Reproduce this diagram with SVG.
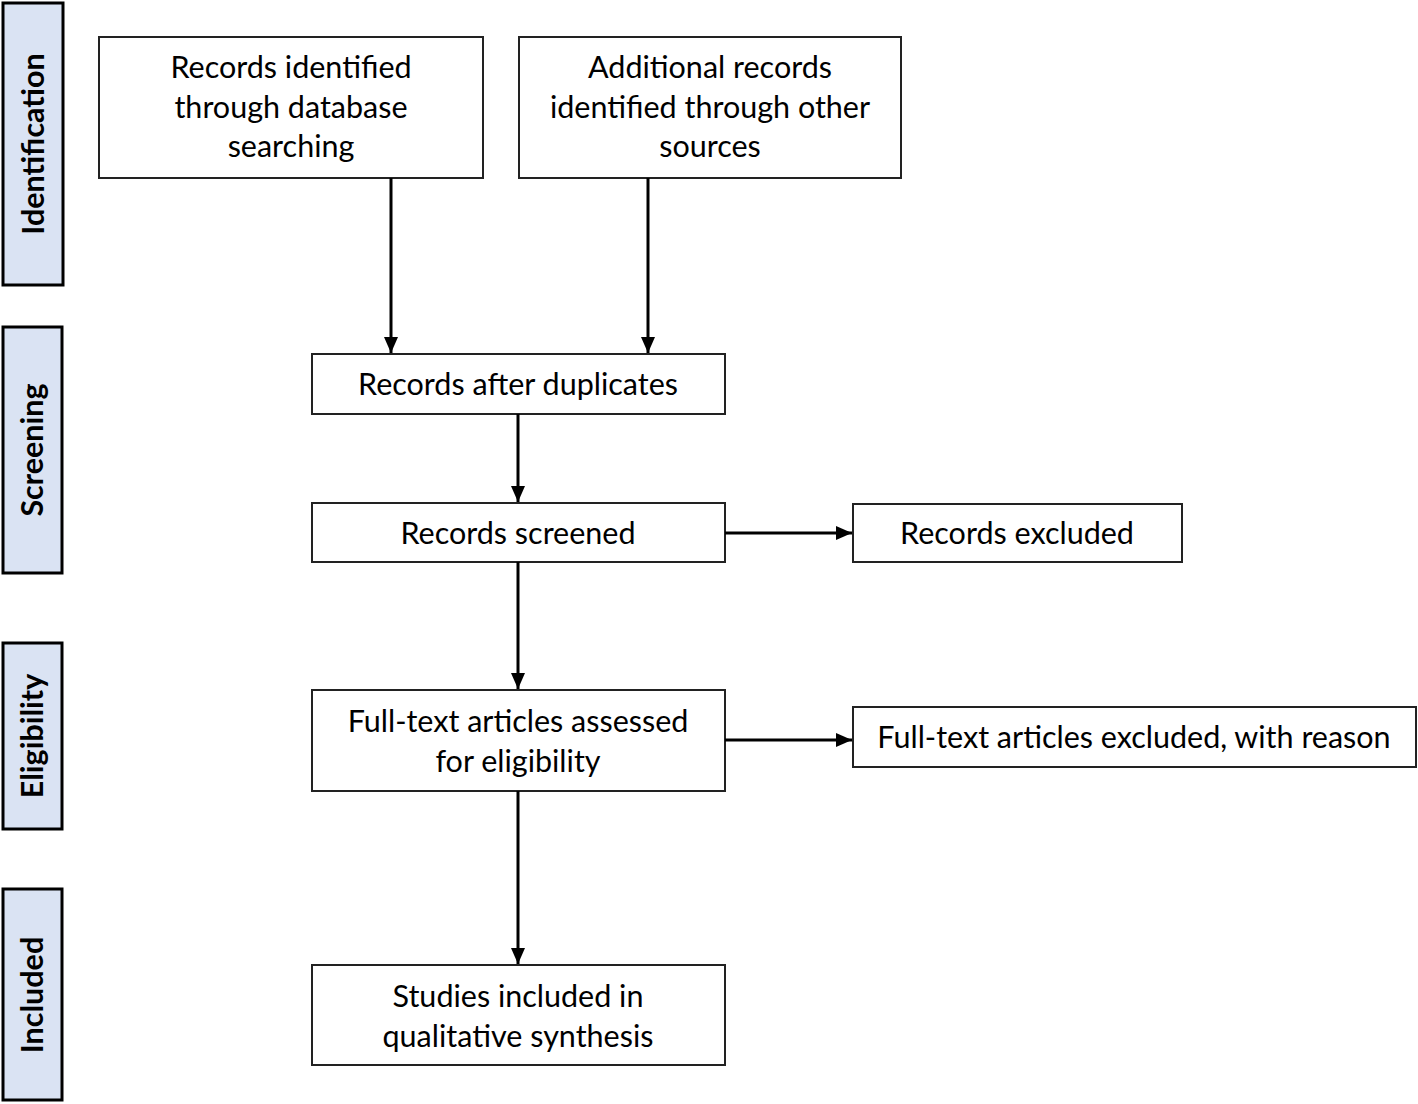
<svg xmlns="http://www.w3.org/2000/svg" width="1418" height="1104" viewBox="0 0 1418 1104">
<style>
.bar{fill:#dae3f3;stroke:#000;stroke-width:3}
.box{fill:#fff;stroke:#222;stroke-width:2}
.t{font-family:Lato,"Open Sans",sans-serif;font-size:30.5px;fill:#000;text-anchor:middle}
.s{font-family:Lato,"Open Sans",sans-serif;font-size:30.5px;font-weight:bold;fill:#000;text-anchor:middle}
.c{stroke:#000;stroke-width:3;fill:none}
</style>
<defs>
<marker id="a" viewBox="0 0 16 14" refX="16" refY="7" markerWidth="16" markerHeight="14" orient="auto" markerUnits="userSpaceOnUse">
<path d="M0,0 L16,7 L0,14 z" fill="#000"/>
</marker>
</defs>
<rect width="1418" height="1104" fill="#fff"/>
<g id="stage-identification"><rect class="bar" x="3" y="3" width="60" height="282"/><text class="s" transform="translate(44,144) rotate(-90)">Identification</text></g>
<g id="stage-screening"><rect class="bar" x="3" y="327" width="59" height="246"/><text class="s" transform="translate(43,450) rotate(-90)">Screening</text></g>
<g id="stage-eligibility"><rect class="bar" x="3" y="643" width="59" height="186"/><text class="s" transform="translate(43,736) rotate(-90)">Eligibility</text></g>
<g id="stage-included"><rect class="bar" x="3" y="889" width="59" height="211"/><text class="s" transform="translate(43,995) rotate(-90)">Included</text></g>
<g id="n-db"><rect class="box" x="99" y="37" width="384" height="141"/><text class="t" x="291" y="78">Records identified</text><text class="t" x="291" y="118">through database</text><text class="t" x="291" y="157">searching</text></g>
<g id="n-other"><rect class="box" x="519" y="37" width="382" height="141"/><text class="t" x="710" y="78">Additional records</text><text class="t" x="710" y="118">identified through other</text><text class="t" x="710" y="157">sources</text></g>
<g id="n-dup"><rect class="box" x="312" y="354" width="413" height="60"/><text class="t" x="518" y="395">Records after duplicates</text></g>
<g id="n-screened"><rect class="box" x="312" y="503" width="413" height="59"/><text class="t" x="518" y="544">Records screened</text></g>
<g id="n-excl"><rect class="box" x="853" y="504" width="329" height="58"/><text class="t" x="1017" y="544">Records excluded</text></g>
<g id="n-full"><rect class="box" x="312" y="690" width="413" height="101"/><text class="t" x="518" y="732">Full-text articles assessed</text><text class="t" x="518" y="772">for eligibility</text></g>
<g id="n-fullexcl"><rect class="box" x="853" y="707" width="563" height="60"/><text class="t" x="1134" y="748">Full-text articles excluded, with reason</text></g>
<g id="n-incl"><rect class="box" x="312" y="965" width="413" height="100"/><text class="t" x="518" y="1007">Studies included in</text><text class="t" x="518" y="1047">qualitative synthesis</text></g>
<g id="connectors">
<line class="c" x1="391" y1="178" x2="391" y2="353" marker-end="url(#a)"/>
<line class="c" x1="648" y1="178" x2="648" y2="353" marker-end="url(#a)"/>
<line class="c" x1="518" y1="414" x2="518" y2="502" marker-end="url(#a)"/>
<line class="c" x1="518" y1="562" x2="518" y2="689" marker-end="url(#a)"/>
<line class="c" x1="518" y1="791" x2="518" y2="964" marker-end="url(#a)"/>
<line class="c" x1="725" y1="533" x2="852" y2="533" marker-end="url(#a)"/>
<line class="c" x1="725" y1="740" x2="852" y2="740" marker-end="url(#a)"/>
</g>
</svg>
